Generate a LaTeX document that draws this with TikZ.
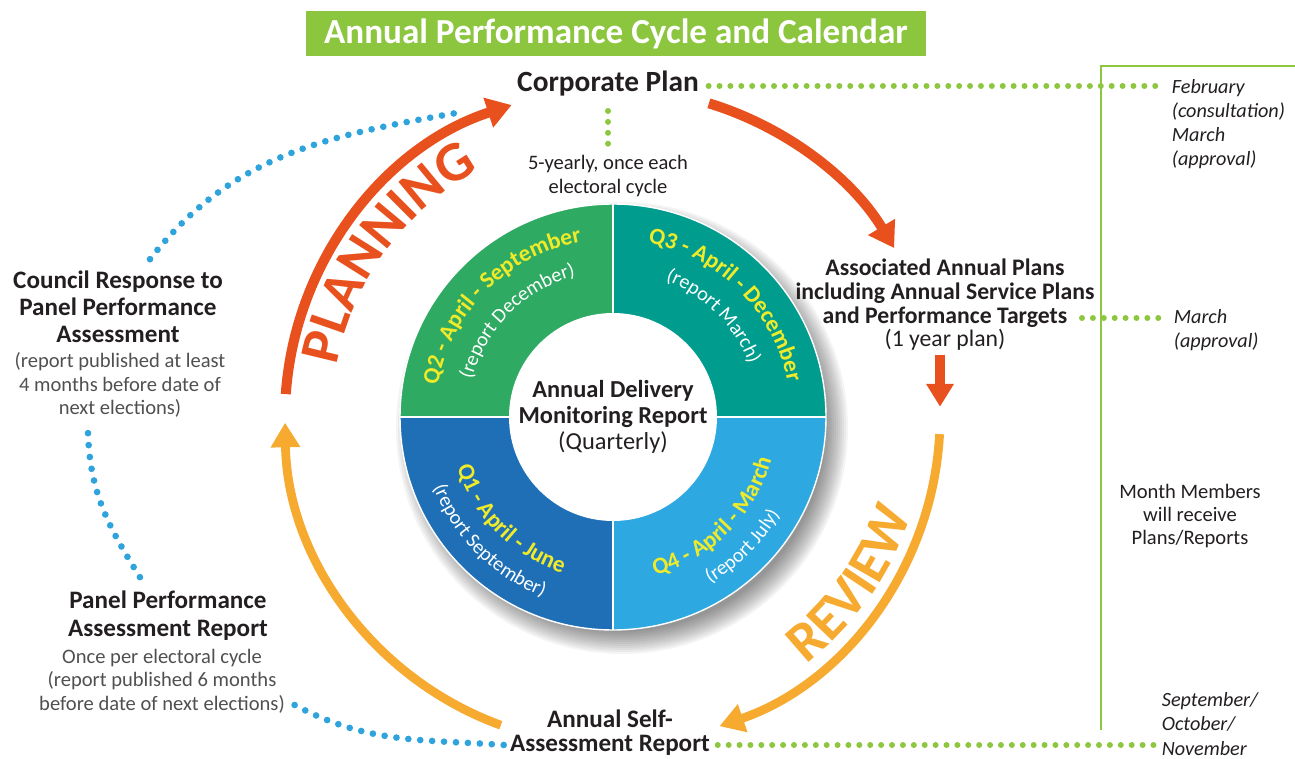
\documentclass[tikz,border=0pt]{standalone}
\usepackage{fontspec}
\setmainfont{Carlito}
\usetikzlibrary{arrows.meta,calc,decorations.text,positioning}

\definecolor{titlegreen}{HTML}{8CC63F}
\definecolor{dotgreen}{HTML}{8DC63F}
\definecolor{planred}{HTML}{E8501E}
\definecolor{revyellow}{HTML}{F6AA2F}
\definecolor{dotblue}{HTML}{2FA4DC}
\definecolor{qtwo}{HTML}{2FAA62}
\definecolor{qthree}{HTML}{009C8E}
\definecolor{qone}{HTML}{1F6FB7}
\definecolor{qfour}{HTML}{2DA8E0}
\definecolor{qyellow}{HTML}{F0EB2A}
\definecolor{txtdark}{HTML}{231F20}
\definecolor{notegray}{HTML}{505050}

\newcommand\qyfont{\bfseries\fontsize{13.3}{13.3}\selectfont\color{qyellow}}
\newcommand\qwfont{\fontsize{11.5}{11.5}\selectfont\color{white}}
\newcommand\bigfont{\bfseries\fontsize{32}{32}\selectfont}

\tikzset{
  head/.style={font=\bfseries\fontsize{14.3}{15.4}\selectfont, text=txtdark, align=center, inner sep=2pt},
  note/.style={font=\fontsize{11.7}{13.3}\selectfont, text=notegray, align=center, inner sep=2pt},
  month/.style={font=\itshape\fontsize{11.5}{13.7}\selectfont, text=txtdark, align=left, inner sep=2pt},
  greendots/.style={dotgreen, line width=3.4pt, line cap=round, dash pattern=on 0pt off 6.2pt},
  bluedots/.style={dotblue, line width=3.8pt, line cap=round, dash pattern=on 0pt off 6.8pt},
  redarrow/.style={planred, line width=5.7pt, -{Triangle[length=14pt,width=17pt]}},
  yelarrow/.style={revyellow, line width=5pt, -{Triangle[length=14pt,width=16pt]}},
}

\begin{document}
\begin{tikzpicture}[x=0.02cm,y=0.02cm]
	\useasboundingbox (0,0) rectangle (1295,758);
	\coordinate (C) at (613,341);

	% title
	\node[fill=titlegreen, text=white, font=\bfseries\fontsize{20}{20}\selectfont, minimum width=12.4cm, minimum height=0.9cm] (title) at (616,724) {Annual Performance Cycle and Calendar};

	% shadow
	\foreach \i in {0,...,11}
		\fill[black, opacity=0.045] ($(C)+(9,-11)$) circle ({226-2*\i});

	% quarters
	\fill[qtwo] (C) -- ++(180:213) arc (180:90:213) -- cycle;
	\fill[qthree] (C) -- ++(90:213) arc (90:0:213) -- cycle;
	\fill[qfour] (C) -- ++(0:213) arc (0:-90:213) -- cycle;
	\fill[qone] (C) -- ++(-90:213) arc (-90:-180:213) -- cycle;
	\draw[white, line width=1.2pt] ($(C)+(-213,0)$) -- ($(C)+(213,0)$) ($(C)+(0,-213)$) -- ($(C)+(0,213)$);
	\draw[white, line width=0.8pt] (C) circle (213);
	\fill[white] (C) circle (104);

	% quarter labels
	\path[decorate, decoration={text along path, text align=center, text={|\qyfont|Q2 - April - September}}] (C) ++(180:178) arc (180:90:178);
	\path[decorate, decoration={text along path, text align=center, text={|\qwfont|(report December)}}] (C) ++(180:146) arc (180:90:146);
	\path[decorate, decoration={text along path, text align=center, text={|\qyfont|Q3 - April - December}}] (C) ++(90:178) arc (90:0:178);
	\path[decorate, decoration={text along path, text align=center, text={|\qwfont|(report March)}}] (C) ++(90:146) arc (90:0:146);
	\path[decorate, decoration={text along path, text align=center, text={|\qyfont|Q1 - April - June}}] (C) ++(180:164) arc (180:270:164);
	\path[decorate, decoration={text along path, text align=center, text={|\qwfont|(report September)}}] (C) ++(180:193) arc (180:270:193);
	\path[decorate, decoration={text along path, text align=center, text={|\qyfont|Q4 - April - March}}] (C) ++(270:164) arc (270:360:164);
	\path[decorate, decoration={text along path, text align=center, text={|\qwfont|(report July)}}] (C) ++(270:193) arc (270:360:193);

	% centre
	\node[font=\fontsize{13.9}{14.6}\selectfont, text=txtdark, align=center] (adm) at (C) {\textbf{Annual Delivery}\\\textbf{Monitoring Report}\\(Quarterly)};

	% cycle arrows
	\draw[redarrow] (C) ++(176:328) arc (176:108:328);
	\draw[redarrow] (C) ++(73:328) arc (73:31:328);
	\draw[yelarrow] (C) ++(-3:327) arc (-3:-71:327);
	\draw[yelarrow] (C) ++(250:328) arc (250:181:328);

	% arrow words
	\path[decorate, decoration={text along path, text align=center, text={|\bigfont\color{planred}|PLANNING}}] (C) ++(182:281) arc (182:106:281);
	\path[decorate, decoration={text along path, text align=center, text={|\bigfont\color{revyellow}|REVIEW}}] (C) ++(-70:314) arc (-70:0:314);

	% plans and reports
	\node[head, font=\bfseries\fontsize{16.7}{18}\selectfont] (corp) at (608,674) {Corporate Plan};
	\node[note, text=txtdark] (fivey) at (608,582) {5-yearly, once each\\electoral cycle};
	\node[head, font=\bfseries\fontsize{13.5}{13.5}\selectfont] (assoc) at (945,453) {Associated Annual Plans\\including Annual Service Plans\\and Performance Targets\\\mdseries (1 year plan)};
	\node[head, font=\bfseries\fontsize{14.3}{13.5}\selectfont] (selfrep) at (610,25) {Annual Self-\\Assessment Report};
	\node[head] (council) at (118,451) {Council Response to\\Panel Performance\\Assessment};
	\node[note] (councilnote) at (120,373) {(report published at least\\4 months before date of\\next elections)};
	\node[head, font=\bfseries\fontsize{14.3}{16}\selectfont] (panel) at (168,142) {Panel Performance\\Assessment Report};
	\node[note] (panelnote) at (162,77) {Once per electoral cycle\\(report published 6 months\\before date of next elections)};

	% calendar column
	\draw[dotgreen, line width=0.8pt] (1295,692) -- (1101,692) -- (1101,28);
	\node[month, anchor=west] (feb) at (1168,634) {February\\(consultation)\\March\\(approval)};
	\node[month, anchor=west] (marchb) at (1170,428) {March\\(approval)};
	\node[note, text=txtdark] (members) at (1190,242) {Month Members\\will receive\\Plans/Reports};
	\node[month, anchor=west] (sept) at (1158,34) {September/\\October/\\November};

	% green dots
	\draw[greendots] ($(corp.east)+(6,-2)$) -- ($(corp.east -| feb.west)+(-4,-2)$);
	\draw[greendots, shorten <=6pt, shorten >=2pt] (corp.south) -- (fivey.north);
	\draw[greendots] ($(marchb.west)+(-88,12)$) -- ($(marchb.west)+(-6,12)$);
	\draw[greendots] ($(selfrep.east)+(4,-12)$) -- ($(selfrep.east -| sept.west)+(-4,-12)$);

	% short arrow
	\draw[redarrow, line width=5.2pt, -{Triangle[length=13pt,width=15pt]}] ($(assoc.south)+(-5,0)$) -- ++(0,-52);

	% blue dots
	\coordinate (cpin) at (462,646);
	\draw[bluedots] ($(council.north)+(32,8)$) to[out=52,in=190] (cpin);
	\draw[bluedots] ($(councilnote.south)+(-32,-12)$) to[out=-88,in=122] ($(panel.north)+(-28,10)$);
	\draw[bluedots] ($(panelnote.east)+(6,-24)$) to[out=-28,in=176] ($(selfrep.west)+(-2,-12)$);
\end{tikzpicture}
\end{document}
